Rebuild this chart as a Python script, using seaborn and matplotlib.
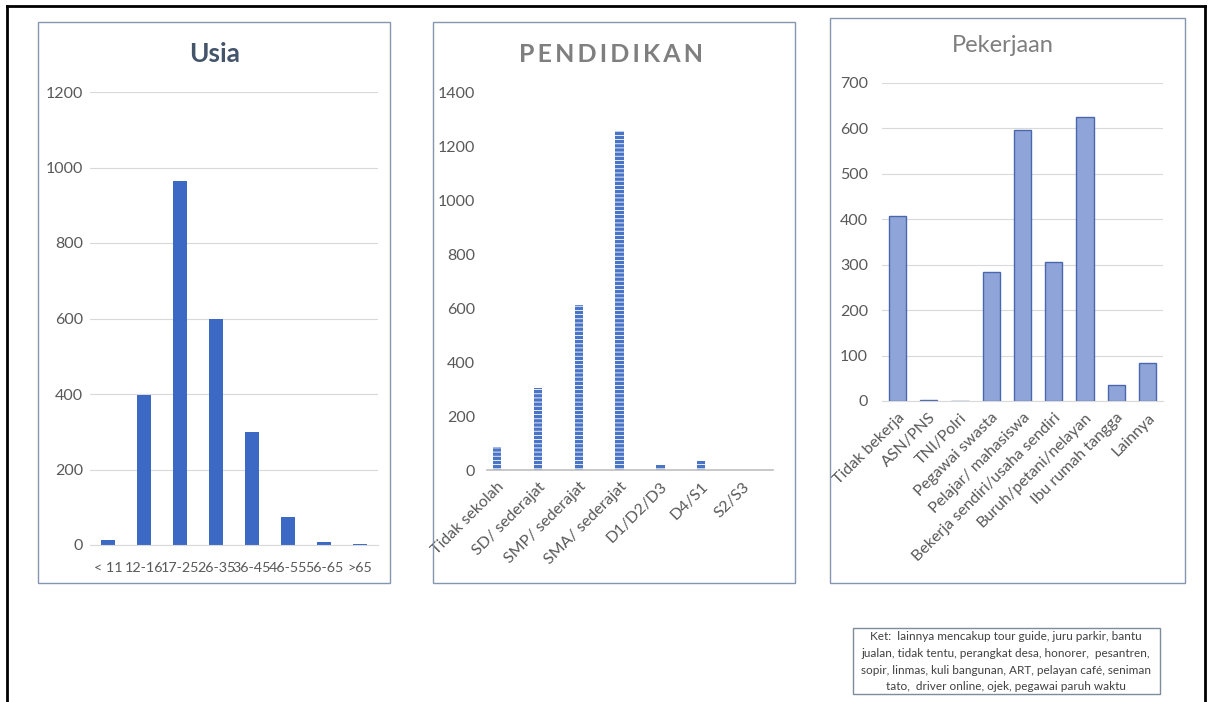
import matplotlib
matplotlib.use("Agg")
import matplotlib.pyplot as plt
from matplotlib.patches import Rectangle
from matplotlib.lines import Line2D
import seaborn as sns

# --- data ---
usia_labels = ["< 11", "12-16", "17-25", "26-35", "36-45", "46-55", "56-65", ">65"]
usia_values = [12, 397, 965, 600, 300, 75, 8, 3]

pend_labels = ["Tidak sekolah", "SD/ sederajat", "SMP/ sederajat", "SMA/ sederajat",
               "D1/D2/D3", "D4/S1", "S2/S3"]
pend_values = [87, 303, 612, 1255, 20, 35, 0]

kerja_labels = ["Tidak bekerja", "ASN/PNS", "TNI/Polri", "Pegawai swasta",
                "Pelajar/ mahasiswa", "Bekerja sendiri/usaha sendiri",
                "Buruh/petani/nelayan", "Ibu rumah tangga", "Lainnya"]
kerja_values = [408, 2, 0, 283, 597, 305, 625, 36, 84]

note_lines = [
    "Ket:  lainnya mencakup tour guide, juru parkir, bantu",
    "jualan, tidak tentu, perangkat desa, honorer,  pesantren,",
    "sopir, linmas, kuli bangunan, ART, pelayan café, seniman",
    "tato,  driver online, ojek, pegawai paruh waktu",
]

plt.rcParams["font.family"] = ["Lato", "DejaVu Sans"]
plt.rcParams["hatch.linewidth"] = 0.6
TICK = "#595959"
GRID = "#d9d9d9"

W, H = 1214, 702
fig = plt.figure(figsize=(W / 100, H / 100), dpi=100)


def px_axes(x0, x1, ytop, ybot):
    return fig.add_axes([x0 / W, (H - ybot) / H, (x1 - x0) / W, (ybot - ytop) / H])


def px_box(x0, y0, x1, y1, color="#8496b0", lw=1.0):
    fig.add_artist(Rectangle((x0 / W, (H - y1) / H), (x1 - x0) / W, (y1 - y0) / H,
                             transform=fig.transFigure, fill=False,
                             edgecolor=color, linewidth=lw))


def style(ax, grid=True):
    for s in ax.spines.values():
        s.set_visible(False)
    ax.spines["bottom"].set_visible(True)
    ax.spines["bottom"].set_color("#bfbfbf" if not grid else GRID)
    ax.tick_params(length=0, colors=TICK, labelsize=11.5)
    ax.set_xlabel(""); ax.set_ylabel("")
    if grid:
        ax.yaxis.grid(True, color=GRID, linewidth=0.8)
        ax.set_axisbelow(True)


# outer frame
for (xa, ya, xb, yb) in [(7, 6, 1205, 6), (7, 6, 7, 702), (1205, 6, 1205, 702)]:
    fig.add_artist(Line2D([xa / W, xb / W], [(H - ya) / H, (H - yb) / H],
                          transform=fig.transFigure, color="black", linewidth=2))

# --- Usia ---
px_box(38, 22, 390, 583)
ax1 = px_axes(90, 378, 92, 545)
sns.barplot(x=usia_labels, y=usia_values, ax=ax1, color="#3c69c3", width=0.37,
            saturation=1)
ax1.set_ylim(0, 1200)
ax1.set_yticks(range(0, 1201, 200))
style(ax1)
ax1.tick_params(axis="x", pad=12, labelsize=10.3)
ax1.tick_params(axis="y", pad=5)
fig.text(215 / W, (H - 54) / H, "Usia", ha="center", va="center",
         fontsize=19, fontweight="bold", color="#44546a")

# --- Pendidikan ---
px_box(433, 22, 795, 583)
ax2 = px_axes(487, 773, 92, 470)
sns.barplot(x=pend_labels, y=pend_values, ax=ax2, color="#4a74c6", width=0.2,
            saturation=1, hatch="----", edgecolor="white", linewidth=0)
ax2.set_ylim(0, 1400)
ax2.set_xlim(-0.245, 6.755)
ax2.set_yticks(range(0, 1401, 200))
style(ax2, grid=False)
ax2.spines["bottom"].set_linewidth(1.2)
plt.setp(ax2.get_xticklabels(), rotation=45, ha="right", rotation_mode="anchor")
ax2.tick_params(axis="x", pad=7)
ax2.tick_params(axis="y", pad=8.5)
fig.text(611 / W, (H - 55) / H, "P\u2009E\u2009N\u2009D\u2009I\u2009D\u2009I\u2009K\u2009A\u2009N",
         ha="center", va="center", fontsize=18, fontweight="bold", color="#7f7f7f")

# --- Pekerjaan ---
px_box(830, 18, 1185, 583)
ax3 = px_axes(882, 1163, 83, 401)
sns.barplot(x=kerja_labels, y=kerja_values, ax=ax3, color="#8fa5da", width=0.55,
            saturation=1, edgecolor="#4a66ad", linewidth=1)
ax3.set_ylim(0, 700)
ax3.set_yticks(range(0, 701, 100))
style(ax3)
plt.setp(ax3.get_xticklabels(), rotation=45, ha="right", rotation_mode="anchor")
ax3.tick_params(axis="x", pad=7)
ax3.tick_params(axis="y", pad=10)
fig.text(1003 / W, (H - 45) / H, "Pekerjaan", ha="center", va="center",
         fontsize=17, color="#7f7f7f")

# --- note ---
px_box(853, 628, 1160, 694, color="#7f8c9a")
for i, line in enumerate(note_lines):
    fig.text(1006 / W, (H - (637 + i * 16.5)) / H, line, ha="center", va="center",
             fontsize=8.5, color="#404040")

fig.savefig("out.png", dpi=100, facecolor="white")
